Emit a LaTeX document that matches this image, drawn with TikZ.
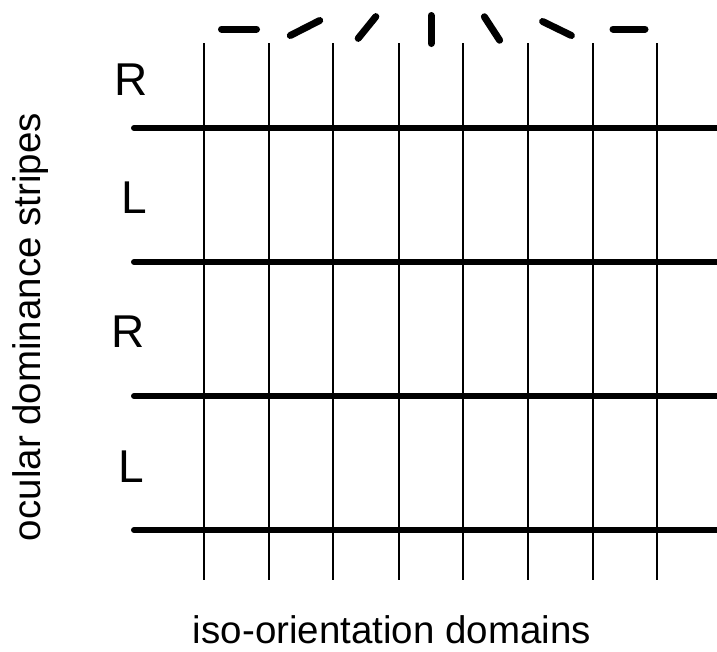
\documentclass[tikz,border=0pt]{standalone}
\usepackage{fontspec}
\setmainfont{Liberation Sans}
\usetikzlibrary{calc}
\begin{document}
\begin{tikzpicture}[x=1pt,y=-1pt,
  thinline/.style={line width=2pt},
  stripe/.style={line width=6pt,line cap=round},
  orbar/.style={line width=7pt,line cap=round},
  eyelabel/.style={font=\fontsize{46}{46}\selectfont,anchor=base,inner sep=0pt},
  axislabel/.style={font=\fontsize{38.5}{38.5}\selectfont,inner sep=0pt}]
\useasboundingbox (0,0) rectangle (717,651);
% iso-orientation domain borders
\foreach \x in {204,269,333,399,463,528,593,657}
  \draw[thinline] (\x,43) -- (\x,580);
% ocular dominance stripe borders
\foreach \y in {128,262,396,530}
  \draw[stripe] (134,\y) -- (725,\y);
% preferred orientation of each domain (y axis points down, so angles are negated)
\foreach \cx/\cy/\ang/\len in {239/29/0/42, 305/28/-27/40, 367/27.5/-51/35, 431/29.5/-90/35,
                                492/28.5/-123/35, 557/28.5/-154/39, 629/29/-180/39}
  \draw[orbar] ($(\cx,\cy)+(\ang:{\len/2-3.5})$) -- ($(\cx,\cy)+(\ang+180:{\len/2-3.5})$);
% eye labels
\node[eyelabel] (r1) at (131,95) {R};
\node[eyelabel] (l1) at (134,213) {L};
\node[eyelabel] (r2) at (128,347) {R};
\node[eyelabel] (l2) at (131,482) {L};
% axis labels
\node[axislabel,anchor=base] (xlab) at (392,643) {iso-orientation domains};
\node[axislabel,rotate=90] (ylab) at (31,327) {ocular dominance stripes};
\end{tikzpicture}
\end{document}
